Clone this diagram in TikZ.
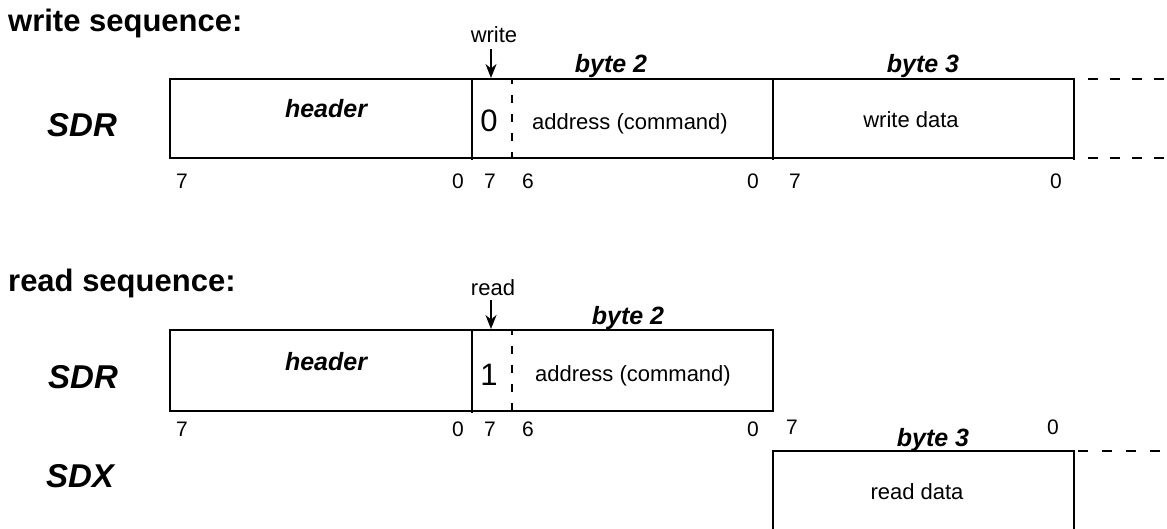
\documentclass[tikz,border=0pt]{standalone}
\usepackage{fontspec}
\setmainfont{Liberation Sans}
\usetikzlibrary{arrows.meta}
\begin{document}
\begin{tikzpicture}[x=1pt,y=-1pt,
  box/.style={line width=2pt},
  dsh/.style={line width=2pt, dash pattern=on 8pt off 11pt, dash phase=3pt},
  extw/.style={line width=2pt, dash pattern=on 10pt off 12pt},
  extr/.style={line width=2pt, dash pattern=on 10pt off 14pt},
  ttl/.style={anchor=base west, inner sep=0pt, font=\fontsize{31}{33}\selectfont\bfseries},
  sig/.style={anchor=base, inner sep=0pt, font=\fontsize{33}{35}\selectfont\bfseries\itshape},
  fld/.style={anchor=base, inner sep=0pt, font=\fontsize{25}{27}\selectfont\bfseries\itshape},
  txt/.style={anchor=base, inner sep=0pt, font=\fontsize{22}{24}\selectfont},
  bitn/.style={anchor=base, inner sep=0pt, font=\fontsize{21}{23}\selectfont},
  flag/.style={anchor=base, inner sep=0pt, font=\fontsize{31}{33}\selectfont},
  arr/.style={line width=1.8pt, -{Stealth[length=14pt,width=11pt]}}
]
\useasboundingbox (0,0) rectangle (1167,529);

% ---------------- write sequence ----------------
\node[ttl] (wtitle) at (8,31.7) {write sequence:};
\node[txt] (wlab) at (494,42.7) {write};
\coordinate (wa1) at (491,49);
\coordinate (wa2) at (491,78);
\draw[arr] (wa1) -- (wa2);
\node[fld] (wb2) at (611,73) {byte 2};
\node[fld] (wb3) at (923,73) {byte 3};

\draw[box] (169.5,79.3) rectangle (1074,158.3);
\draw[box] (471.7,79.3) -- (471.7,160.5);
\draw[box] (772.7,79.3) -- (772.7,160.5);
\draw[box] (1074,158.3) -- (1074,160.5);
\draw[dsh] (511.7,79.3) -- (511.7,158.3);
\draw[extw] (1088,79.3) -- (1167,79.3);
\draw[extw] (1088,158.3) -- (1167,158.3);

\node[sig] (wsdr) at (82,137) {SDR};
\node[fld] (whdr) at (326,118) {header};
\node[flag] (wzero) at (489,132) {0};
\node[txt] (waddr) at (630,130) {address (command)};
\node[txt] (wdata) at (911,128) {write data};

\node[bitn] (wb1) at (182,189) {7};
\node[bitn] (wb2a) at (458,189) {0};
\node[bitn] (wb3a) at (490,189) {7};
\node[bitn] (wb4) at (528,189) {6};
\node[bitn] (wb5) at (753,189) {0};
\node[bitn] (wb6) at (795,189) {7};
\node[bitn] (wb7) at (1056,189) {0};

% ---------------- read sequence ----------------
\node[ttl] (rtitle) at (8,291.7) {read sequence:};
\node[txt] (rlab) at (493,295) {read};
\coordinate (ra1) at (491,300);
\coordinate (ra2) at (491,329);
\draw[arr] (ra1) -- (ra2);
\node[fld] (rb2) at (628,324) {byte 2};

\draw[box] (169.5,329.8) rectangle (772.7,410.5);
\draw[box] (471.7,329.8) -- (471.7,412.5);
\draw[dsh] (511.7,329.8) -- (511.7,410.5);

\node[sig] (rsdr) at (83,388) {SDR};
\node[fld] (rhdr) at (326,370) {header};
\node[flag] (rone) at (489,385) {1};
\node[txt] (raddr) at (633,381) {address (command)};

\node[bitn] (rb1) at (182,436) {7};
\node[bitn] (rb2a) at (458,436) {0};
\node[bitn] (rb3a) at (490,436) {7};
\node[bitn] (rb4) at (528,436) {6};
\node[bitn] (rb5) at (753,436) {0};
\node[bitn] (rb6) at (792,434) {7};
\node[bitn] (rb7) at (1053,434) {0};

\node[fld] (rb3) at (933,446) {byte 3};
\node[sig] (rsdx) at (80,487) {SDX};

\draw[box] (772.7,529) -- (772.7,451) -- (1074,451) -- (1074,529);
\draw[extr] (1078,451) -- (1167,451);
\node[txt] (rdata) at (917,499) {read data};

\end{tikzpicture}
\end{document}
